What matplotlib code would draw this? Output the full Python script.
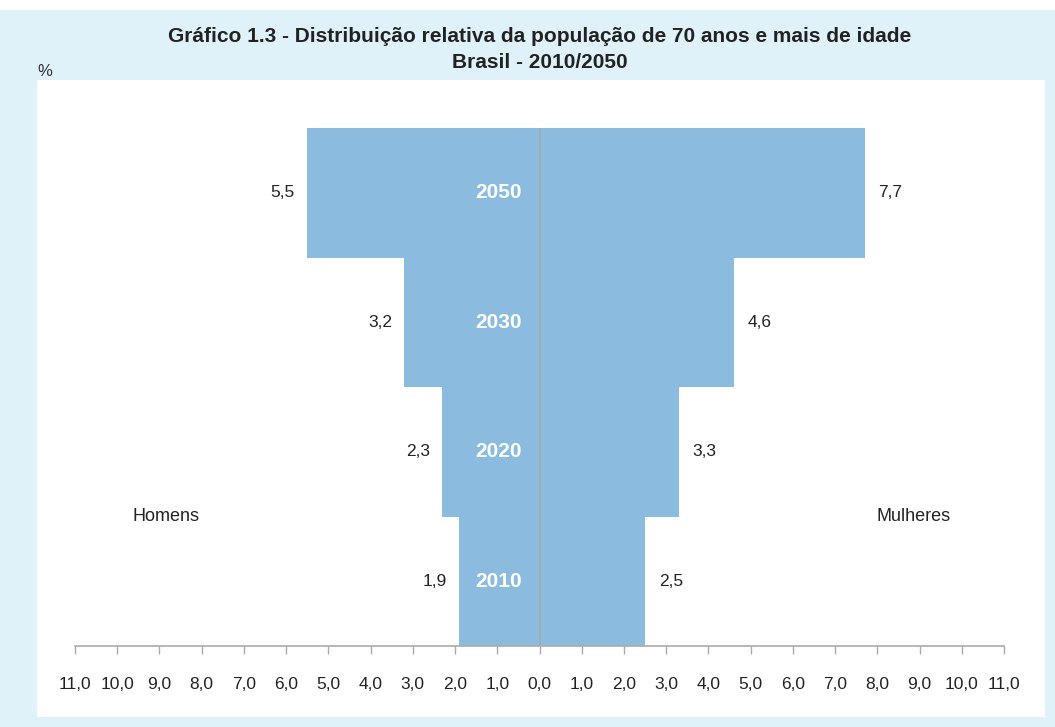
import matplotlib
matplotlib.use("Agg")
import matplotlib.pyplot as plt
from matplotlib.patches import Rectangle

years = ["2010", "2020", "2030", "2050"]
homens = [1.9, 2.3, 3.2, 5.5]
mulheres = [2.5, 3.3, 4.6, 7.7]
ticks = list(range(-11, 12))

plt.rcParams['font.family'] = ['Liberation Sans', 'DejaVu Sans']

W, H = 1055, 727
fig = plt.figure(figsize=(W / 100, H / 100), dpi=100)
fig.patch.set_facecolor("white")

# background panels
fig.patches.append(Rectangle((0, 0), 1, (H - 10) / H, transform=fig.transFigure,
                             facecolor="#dff1f9", edgecolor="none", zorder=-2))
fig.patches.append(Rectangle((37 / W, (H - 717) / H), (1045 - 37) / W, (717 - 80) / H,
                             transform=fig.transFigure, facecolor="white",
                             edgecolor="none", zorder=-1))

title_font = ['Liberation Sans Narrow', 'Liberation Sans', 'DejaVu Sans']
fig.text(540 / W, 1 - 36 / H, "Gráfico 1.3 - Distribuição relativa da população de 70 anos e mais de idade",
         ha="center", va="center", fontsize=15, fontweight="bold", family=title_font, color="#222222")
fig.text(540 / W, 1 - 62 / H, "Brasil - 2010/2050",
         ha="center", va="center", fontsize=15, fontweight="bold", family=title_font, color="#222222")
fig.text(45 / W, 1 - 72 / H, "%", ha="center", va="center", fontsize=12, color="#333333")

ax = fig.add_axes([75 / W, (H - 646) / H, (1004 - 75) / W, (646 - 128) / H])
ax.set_zorder(2)
ax.set_facecolor("none")
ax.set_xlim(-11, 11)
ax.set_ylim(0, len(years))

color = "#8bbbdf"
pos = [i + 0.5 for i in range(len(years))]
ax.barh(pos, [-v for v in homens], height=1.0, color=color, edgecolor="none", zorder=2)
ax.barh(pos, mulheres, height=1.0, color=color, edgecolor="none", zorder=2)
ax.axvline(0, color="#aaaaaa", lw=1.2, zorder=3)

for p, y, h, m in zip(pos, years, homens, mulheres):
    ax.annotate(f"{h:.1f}".replace(".", ","), (-h, p), xytext=(-9, 0), textcoords="offset points",
                ha="right", va="center", fontsize=12.5, color="#222222")
    ax.annotate(f"{m:.1f}".replace(".", ","), (m, p), xytext=(10, 0), textcoords="offset points",
                ha="left", va="center", fontsize=12.5, color="#222222")
    ax.annotate(y, (0, p), xytext=(-13, 0), textcoords="offset points",
                ha="right", va="center", fontsize=15, fontweight="bold", color="white", zorder=4)

ax.text(-8.85, 1.0, "Homens", ha="center", va="center", fontsize=13, color="#222222")
ax.text(8.85, 1.0, "Mulheres", ha="center", va="center", fontsize=13, color="#222222")

ax.set_xticks(ticks)
ax.set_xticklabels([f"{abs(t):.1f}".replace(".", ",") for t in ticks], fontsize=12.5, color="#222222")
ax.tick_params(axis="x", direction="out", length=6, width=1, color="#aaaaaa", pad=16)
ax.set_yticks([])
for s in ["top", "left", "right"]:
    ax.spines[s].set_visible(False)
ax.spines["bottom"].set_color("#aaaaaa")
ax.spines["bottom"].set_linewidth(1.2)

fig.savefig("out.png", dpi=100)
